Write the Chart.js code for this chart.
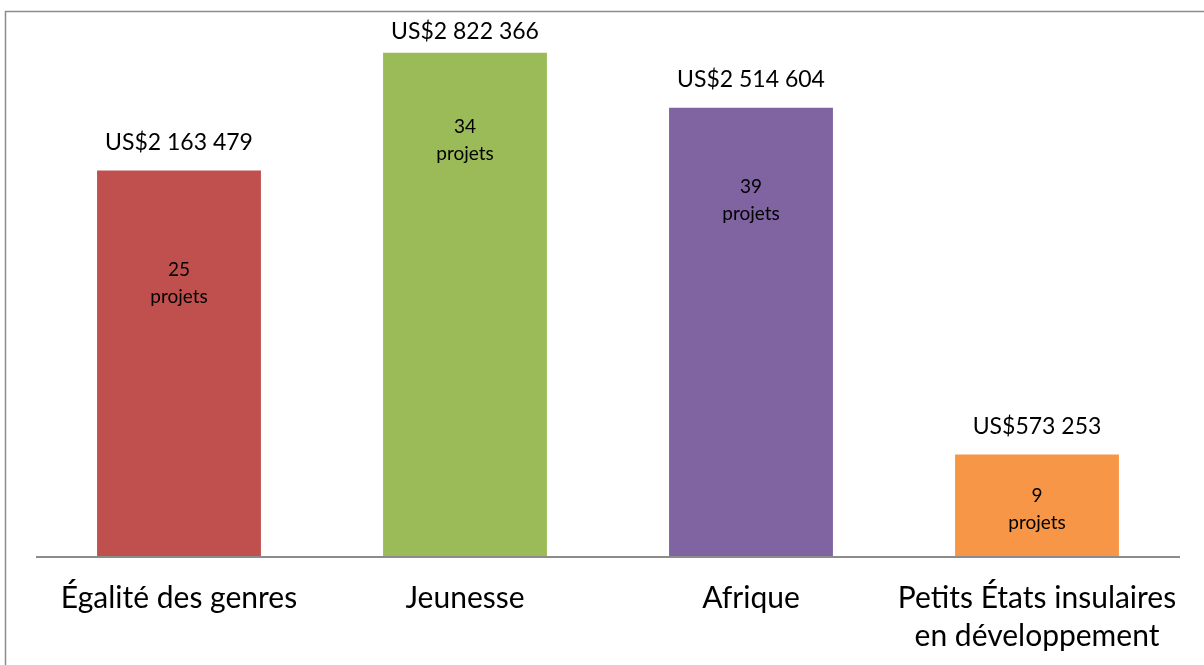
<!DOCTYPE html>
<html>
<head>
<meta charset="utf-8">
<script src="https://cdn.jsdelivr.net/npm/chart.js@4/dist/chart.umd.min.js"></script>
<style>
  html, body { margin: 0; padding: 0; background: #ffffff; }
  #wrap { width: 1204px; height: 665px; position: relative; }
</style>
</head>
<body>
<div id="wrap"><canvas id="c" width="1204" height="665"></canvas></div>
<script>
// Funding per thematic priority (US$) and number of projects
const categories = [
  "Égalité des genres",
  "Jeunesse",
  "Afrique",
  ["Petits États insulaires", "en développement"]
];
const amounts = [2163479, 2822366, 2514604, 573253];
const projectCounts = [25, 34, 39, 9];
const amountLabels = ["US$2 163 479", "US$2 822 366", "US$2 514 604", "US$573 253"];
const barColors = ["#C0504D", "#9BBB59", "#8064A2", "#F79646"];

const FONT = "Lato, 'Open Sans', sans-serif";

// Outer frame of the chart and the category axis line
const framePlugin = {
  id: 'frame',
  beforeDraw(chart) {
    const ctx = chart.ctx;
    ctx.save();
    ctx.fillStyle = '#ffffff';
    ctx.fillRect(0, 0, chart.width, chart.height);
    ctx.strokeStyle = '#8c8c8c';
    ctx.lineWidth = 1.5;
    ctx.strokeRect(5.5, 11.5, chart.width + 20, chart.height + 20);
    ctx.restore();
  },
  afterDatasetsDraw(chart) {
    const ctx = chart.ctx;
    const xs = chart.scales.x;
    const yBase = chart.scales.y.getPixelForValue(0);
    const half = (xs.getPixelForValue(1) - xs.getPixelForValue(0)) / 2;
    const x0 = xs.getPixelForValue(0) - half;
    const x1 = xs.getPixelForValue(categories.length - 1) + half;
    ctx.save();
    ctx.strokeStyle = '#8c8c8c';
    ctx.lineWidth = 2;
    ctx.beginPath();
    ctx.moveTo(x0, yBase);
    ctx.lineTo(x1, yBase);
    ctx.stroke();
    ctx.restore();
  }
};

// Value labels above bars and project counts inside bars
const labelPlugin = {
  id: 'barLabels',
  afterDatasetsDraw(chart, args, opts) {
    const ctx = chart.ctx;
    const meta = chart.getDatasetMeta(0);
    ctx.save();
    ctx.textAlign = 'center';
    ctx.textBaseline = 'middle';
    meta.data.forEach((bar, i) => {
      const top = bar.y;
      const yVal = Math.max(top - 28, chart.chartArea.top + 11);
      ctx.fillStyle = '#000000';
      ctx.font = "23px " + FONT;
      ctx.fillText(amountLabels[i], bar.x, yVal);
      ctx.font = "19px " + FONT;
      const y1 = top + opts.innerOffsets[i];
      ctx.fillText(String(projectCounts[i]), bar.x, y1);
      ctx.fillText("projets", bar.x, y1 + 27);
    });
    ctx.restore();
  }
};

new Chart(document.getElementById('c'), {
  type: 'bar',
  data: {
    labels: categories,
    datasets: [{
      data: amounts,
      backgroundColor: barColors,
      borderWidth: 0,
      categoryPercentage: 1.0,
      barPercentage: 0.573
    }]
  },
  options: {
    responsive: false,
    animation: false,
    devicePixelRatio: 1,
    layout: { padding: { left: 36, right: 24, top: 21, bottom: 0 } },
    plugins: {
      legend: { display: false },
      tooltip: { enabled: false },
      barLabels: { innerOffsets: [99, 74, 79, 41] }
    },
    scales: {
      x: {
        grid: { display: false, drawTicks: false },
        border: { display: false },
        ticks: {
          color: '#000000',
          padding: 22,
          maxRotation: 0,
          autoSkip: false,
          font: { family: FONT, size: 30, lineHeight: 38 / 30 }
        },
        afterFit(scale) { scale.height = 108; }
      },
      y: {
        display: false,
        min: 0,
        max: 3000000
      }
    }
  },
  plugins: [framePlugin, labelPlugin]
});
</script>
</body>
</html>
